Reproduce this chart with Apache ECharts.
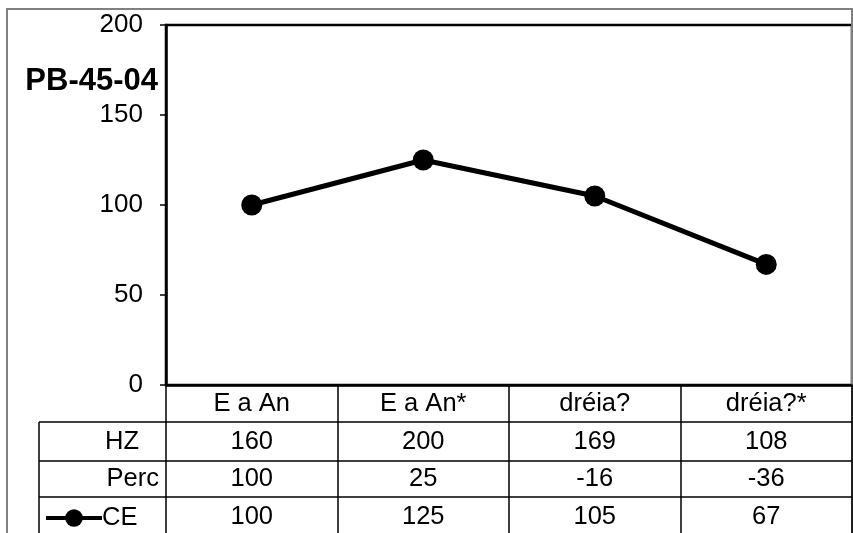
<!DOCTYPE html>
<html>
<head>
<meta charset="utf-8">
<script src="https://cdn.jsdelivr.net/npm/echarts@6/dist/echarts.min.js"></script>
<style>
  html, body { margin: 0; padding: 0; background: #fff; }
  #chart { width: 853px; height: 533px; }
</style>
</head>
<body>
<div id="chart"></div>
<script>
// chart values
var title = "PB-45-04";
var categories = ["E a An", "E a An*", "dréia?", "dréia?*"];
var hz = [160, 200, 169, 108];
var perc = [100, 25, -16, -36];
var ce = [100, 125, 105, 67];
var rowNames = ["HZ", "Perc", "CE"];

var font = "Liberation Sans, Arial, sans-serif";
var fs = 25.5;
var chart = echarts.init(document.getElementById("chart"));

// one extra x axis per table row, offset below the plot
function rowAxis(offset, rowH, values) {
  return {
    type: "category",
    gridIndex: 0,
    position: "bottom",
    offset: offset,
    data: categories,
    axisLine: { show: true, lineStyle: { color: "#000", width: 1.5 } },
    axisTick: { show: true, inside: false, length: rowH, interval: 0, lineStyle: { color: "#000", width: 1.5 } },
    axisLabel: {
      interval: 0,
      margin: rowH / 2 - fs / 2,
      fontSize: fs,
      lineHeight: fs,
      color: "#000",
      fontFamily: font,
      formatter: function (v, i) { return String(values[i]); }
    },
    splitLine: { show: false }
  };
}

chart.setOption({
  animation: false,
  textStyle: { fontFamily: font },
  title: {
    text: title,
    right: 690,
    top: 61,
    textStyle: { fontSize: 31, fontWeight: "bold", color: "#000", fontFamily: font }
  },
  legend: {
    left: 44,
    top: 505,
    padding: 0,
    itemWidth: 56,
    itemHeight: 22,
    itemGap: 0,
    data: ["CE"],
    lineStyle: { width: 4 },
    textStyle: { fontSize: fs, color: "#000", fontFamily: font, padding: [0, 0, 0, -5] }
  },
  grid: {
    left: 166,
    right: 1,
    top: 25,
    bottom: 148,
    show: true,
    borderColor: "#000",
    borderWidth: 2.5
  },
  xAxis: [
    {
      type: "category",
      data: categories,
      axisLine: { show: true, lineStyle: { color: "#000", width: 2.5 } },
      axisTick: { show: true, length: 37, interval: 0, lineStyle: { color: "#000", width: 1.5 } },
      axisLabel: { interval: 0, margin: 37 / 2 - fs / 2, fontSize: fs, lineHeight: fs, color: "#000", fontFamily: font },
      splitLine: { show: false }
    },
    rowAxis(37, 39, hz),
    rowAxis(76, 36, perc),
    rowAxis(112, 40, ce)
  ],
  yAxis: {
    type: "value",
    min: 0,
    max: 200,
    interval: 50,
    axisLine: { show: true, lineStyle: { color: "#000", width: 2.5 } },
    axisTick: { show: true, length: 6, lineStyle: { color: "#000", width: 1.5 } },
    axisLabel: { fontSize: 26, color: "#000", margin: 23, fontFamily: font },
    splitLine: { show: false }
  },
  series: [
    {
      name: "CE",
      type: "line",
      data: ce,
      symbol: "circle",
      symbolSize: 21,
      itemStyle: { color: "#000" },
      lineStyle: { color: "#000", width: 5 }
    }
  ],
  graphic: [
    { type: "rect", shape: { x: 7, y: 9, width: 845, height: 540 }, style: { fill: "none", stroke: "#808080", lineWidth: 2 }, silent: true },
    { type: "line", shape: { x1: 39, y1: 422, x2: 39, y2: 540 }, style: { stroke: "#000", lineWidth: 1.5 } },
    { type: "line", shape: { x1: 39, y1: 422, x2: 166, y2: 422 }, style: { stroke: "#000", lineWidth: 1.5 } },
    { type: "line", shape: { x1: 39, y1: 461, x2: 166, y2: 461 }, style: { stroke: "#000", lineWidth: 1.5 } },
    { type: "line", shape: { x1: 39, y1: 497, x2: 166, y2: 497 }, style: { stroke: "#000", lineWidth: 1.5 } },
    { type: "text", x: 139, y: 442, style: { text: rowNames[0], fill: "#000", font: fs + "px " + font, align: "right", verticalAlign: "middle" } },
    { type: "text", x: 159, y: 479, style: { text: rowNames[1], fill: "#000", font: fs + "px " + font, align: "right", verticalAlign: "middle" } }
  ]
});
</script>
</body>
</html>
